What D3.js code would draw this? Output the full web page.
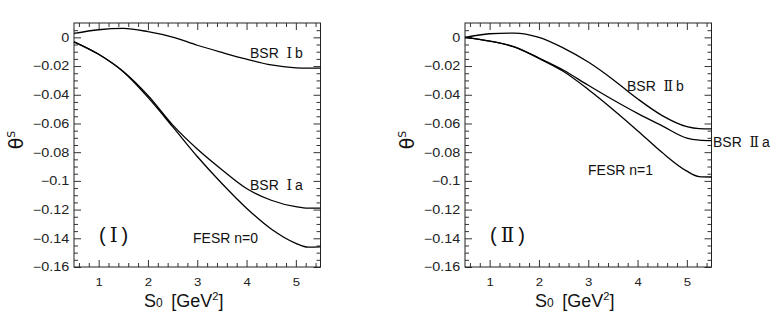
<!DOCTYPE html>
<html>
<head>
<meta charset="utf-8">
<script src="https://cdn.jsdelivr.net/npm/d3@7"></script>
<style>
  body { margin: 0; background: #fff; }
  svg { display: block; }
</style>
</head>
<body>
<svg width="781" height="320"></svg>
<script>
// s0 grid [GeV^2] the curves were read at
const sVals = [0.5, 1, 1.5, 2, 2.5, 3, 3.5, 4, 4.5, 5, 5.25, 5.5]

// panel (I)
const bsrIb = [0.0027, 0.0053, 0.0062, 0.0040, 0.0002, -0.0055, -0.0105, -0.0152, -0.0192, -0.0212, -0.0215, -0.0215]
const bsrIa = [-0.0031, -0.0118, -0.0238, -0.0405, -0.0610, -0.0778, -0.0922, -0.1053, -0.1135, -0.1180, -0.1190, -0.1190]
const fesr0 = [-0.0031, -0.0118, -0.0240, -0.0418, -0.0622, -0.0830, -0.1018, -0.1190, -0.1335, -0.1435, -0.1462, -0.1460]

// panel (II)
const bsrIIb = [0.0000, 0.0025, 0.0030, 0.0000, -0.0075, -0.0172, -0.0293, -0.0428, -0.0545, -0.0622, -0.0636, -0.0638]
const bsrIIa = [0.0000, -0.0026, -0.0066, -0.0144, -0.0229, -0.0334, -0.0435, -0.0530, -0.0617, -0.0702, -0.0716, -0.0720]
const fesr1 = [0.0000, -0.0026, -0.0067, -0.0147, -0.0238, -0.0363, -0.0502, -0.0650, -0.0803, -0.0932, -0.0970, -0.0973]

const xTicks = [1, 2, 3, 4, 5]
const yTicks = [0, -0.02, -0.04, -0.06, -0.08, -0.1, -0.12, -0.14, -0.16]
const xMinor = d3.range(3, 28).filter(i => i % 5 !== 0).map(i => i / 5)
const yMinor = d3.range(-32, 2).filter(i => i % 4 !== 0).map(i => i / 200)

const svg = d3.select('svg')
const tickFont = 'Liberation Sans, Arial, sans-serif'
const romanFont = 'DejaVu Serif, serif'

const fmtY = d => d === 0 ? '0' : String(+d.toFixed(2)).replace('-', '\u2212')

function drawPanel(left, right, series, labels) {
    const top = 23, bottom = 267
    const x = d3.scaleLinear().domain([0.5, 5.5]).range([left, right])
    const y = d3.scaleLinear().domain([-0.16, 0.01]).range([bottom, top])
    const g = svg.append('g')

    // ticks on all four sides, pointing inward
    const axes = [
        [d3.axisBottom(x), `translate(0,${bottom})`, xTicks, xMinor, true],
        [d3.axisTop(x), `translate(0,${top})`, xTicks, xMinor, false],
        [d3.axisLeft(y), `translate(${left},0)`, yTicks, yMinor, true],
        [d3.axisRight(y), `translate(${right},0)`, yTicks, yMinor, false],
    ]
    axes.forEach(([ax, tr, major, minor, withLabels]) => {
        const isX = major === xTicks
        const gm = g.append('g').attr('transform', tr)
            .call(ax.tickValues(major).tickSize(-7).tickPadding(isX ? 11 : 4)
                .tickFormat(withLabels ? (isX ? d3.format('d') : fmtY) : ''))
        gm.select('.domain').remove()
        gm.selectAll('line').attr('stroke', '#333')
        gm.selectAll('text')
            .attr('font-family', tickFont)
            .attr('font-size', isX ? 11 : 12)
            .attr('fill', '#222')
            .attr('transform', 'scale(1.2,1)')

        const gn = g.append('g').attr('transform', tr)
            .call(ax.tickValues(minor).tickSize(-4).tickFormat(''))
        gn.select('.domain').remove()
        gn.selectAll('line').attr('stroke', '#333')
    })

    g.append('rect')
        .attr('x', left).attr('y', top)
        .attr('width', right - left).attr('height', bottom - top)
        .attr('fill', 'none').attr('stroke', '#222').attr('stroke-width', 1)

    const line = d3.line()
        .x((d, i) => x(sVals[i]))
        .y(d => y(d))
        .curve(d3.curveMonotoneX)

    series.forEach(s => {
        g.append('path')
            .attr('d', line(s))
            .attr('fill', 'none')
            .attr('stroke', '#000')
            .attr('stroke-width', 1.3)
    })

    // curve labels
    labels.forEach(l => {
        const t = g.append('text')
            .attr('x', l.x).attr('y', l.y)
            .attr('font-family', tickFont)
            .attr('font-size', l.size || 14)
            .attr('fill', '#111')
        l.parts.forEach(p => {
            const ts = t.append('tspan').text(p[0])
            if (p[1]) ts.attr('font-family', romanFont)
        })
    })

    // axis titles
    const xt = g.append('text')
        .attr('x', left + 70).attr('y', 307)
        .attr('font-family', tickFont).attr('font-size', 18).attr('fill', '#111')
    xt.append('tspan').text('S')
    xt.append('tspan').text('0').attr('font-size', 12)
    xt.append('tspan').text('\u2009 [GeV')
    xt.append('tspan').text('2').attr('font-size', 11).attr('dy', -7)
    xt.append('tspan').text(']').attr('dy', 7)

    const yt = g.append('text')
        .attr('transform', `translate(${left - 51},140) rotate(-90)`)
        .attr('text-anchor', 'middle')
        .attr('font-family', 'DejaVu Sans, sans-serif').attr('font-size', 19).attr('fill', '#111')
    yt.append('tspan').text('\u03b8')
    yt.append('tspan').text('S').attr('font-size', 11).attr('dy', -8)
}

drawPanel(74, 320.5, [bsrIb, bsrIa, fesr0], [
    { x: 250, y: 58, parts: [['BSR\u00a0\u00a0'], ['\u2160', true], ['\u2009b']] },
    { x: 250, y: 190, parts: [['BSR\u00a0\u00a0'], ['\u2160', true], ['\u2009a']] },
    { x: 193, y: 243, parts: [['FESR n=0']] },
    { x: 99, y: 242, size: 20, parts: [['(\u2009'], ['\u2160', true], ['\u2009)']] },
])

drawPanel(465, 711.5, [bsrIIb, bsrIIa, fesr1], [
    { x: 627, y: 91, parts: [['BSR\u00a0\u00a0'], ['\u2161', true], ['\u2009b']] },
    { x: 713, y: 147, parts: [['BSR\u00a0\u00a0'], ['\u2161', true], ['\u2009a']] },
    { x: 588, y: 175, parts: [['FESR n=1']] },
    { x: 490, y: 242, size: 20, parts: [['(\u2009'], ['\u2161', true], ['\u2009)']] },
])
</script>
</body>
</html>
